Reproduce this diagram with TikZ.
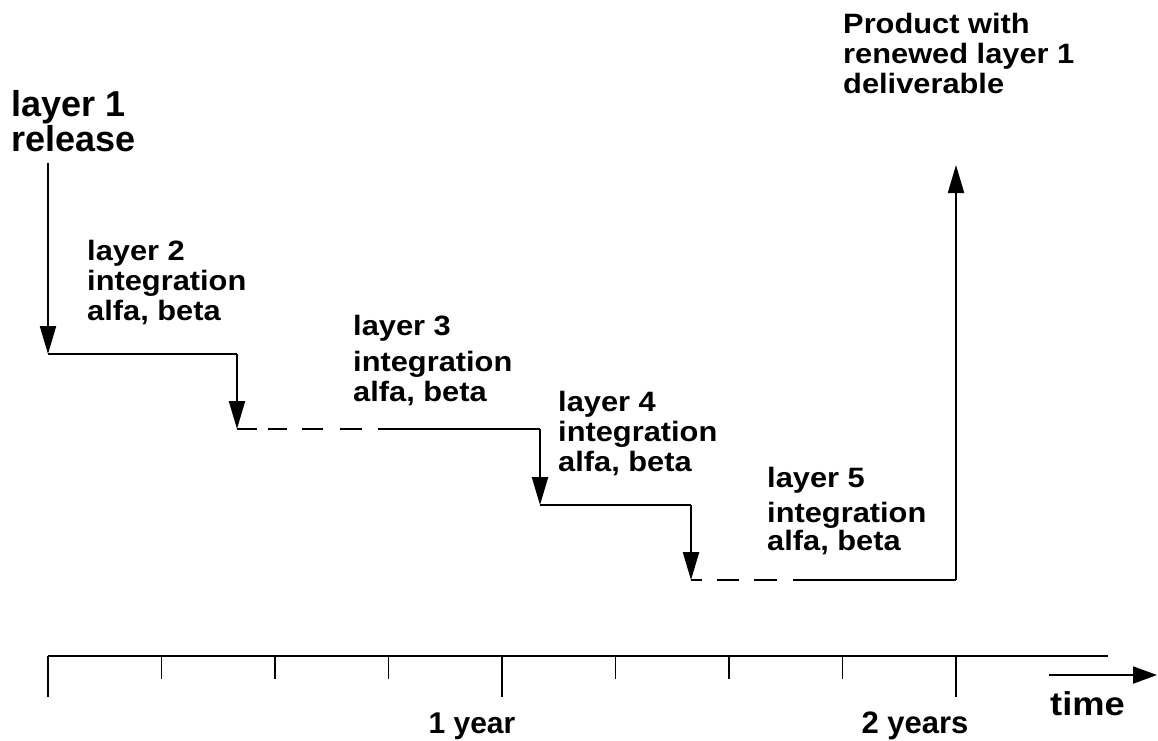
\documentclass[tikz,border=0pt]{standalone}
\usepackage{fontspec}
\setmainfont{Liberation Sans}
\newfontfamily\widesans{Liberation Sans}[FakeStretch=1.1]
\usetikzlibrary{arrows.meta}
\begin{document}
\begin{tikzpicture}[x=1pt, y=-1pt,
  flow/.style={line width=2.2pt},
  flowarrow/.style={flow, -{Triangle[length=28pt, width=16pt]}},
  axis/.style={line width=2pt},
  tick/.style={line width=1.5pt},
  % multi-line labels are anchored at the baseline of their last line
  biglabel/.style={anchor=base west, inner sep=0pt, align=left,
    font=\fontsize{36}{27.5}\selectfont\bfseries},
  label/.style={anchor=base west, inner sep=0pt, align=left,
    font=\widesans\fontsize{28}{30}\selectfont\bfseries},
  yearlabel/.style={anchor=base, inner sep=0pt,
    font=\fontsize{30}{30}\selectfont\bfseries}]
\useasboundingbox (0,0) rectangle (1158,740);

% corner points of the staircase
\coordinate (start) at (48,163);
\coordinate (c1) at (48,354);
\coordinate (c2) at (237,354);
\coordinate (c3) at (237,429);
\coordinate (d1end) at (362,429);
\coordinate (s1) at (378,429);
\coordinate (c4) at (540,429);
\coordinate (c5) at (540,505);
\coordinate (c6) at (691,505);
\coordinate (c7) at (691,580);
\coordinate (d2end) at (778,580);
\coordinate (s2) at (793,580);
\coordinate (c8) at (956,580);
\coordinate (goal) at (956,165);

% labels
\node[biglabel] (l1) at (11,151.5) {layer 1\\release};
\node[label] (l2) at (87,320) {layer 2\\integration\\alfa, beta};
\node[label] (l3) at (353,401.5) {layer 3\\[6pt]integration\\alfa, beta};
\node[label] (l4) at (558,471.5) {layer 4\\integration\\alfa, beta};
\node[label] (l5) at (767,550) {layer 5\\[5pt]integration\\[-2pt]alfa, beta};
\node[label] (prod) at (843,93) {Product with\\renewed layer 1\\deliverable};

% staircase
\draw[flowarrow] (start) -- (c1);
\draw[flow] (c1) -- (c2);
\draw[flowarrow] (c2) -- (c3);
\draw[flow, dash pattern=on 20pt off 11pt on 19pt off 15pt on 21pt off 17pt on 22pt off 20pt] (c3) -- (d1end);
\draw[flow] (s1) -- (c4);
\draw[flowarrow] (c4) -- (c5);
\draw[flow] (c5) -- (c6);
\draw[flowarrow] (c6) -- (c7);
\draw[flow, dash pattern=on 11pt off 15pt on 22pt off 15pt on 23pt off 20pt] (c7) -- (d2end);
\draw[flow] (s2) -- (c8);
\draw[flowarrow] (c8) -- (goal);

% time axis
\coordinate (ax0) at (48,656);
\coordinate (ax1) at (1108,656);
\draw[axis] (ax0) -- (ax1);
\foreach \i in {0,...,8} {
  \pgfmathsetmacro{\tx}{48+113.5*\i}
  \pgfmathtruncatemacro{\major}{mod(\i,4)==0 ? 1 : 0}
  \ifnum\major=1
    \draw[tick] (\tx,656) -- (\tx,697);
  \else
    \draw[tick] (\tx,656) -- (\tx,679);
  \fi
}
\coordinate (tstart) at (1049,675);
\coordinate (tend) at (1157,675);
\draw[axis, -{Triangle[length=24pt, width=17pt]}] (tstart) -- (tend);

\node[yearlabel] (y1) at (472,733) {1 year};
\node[yearlabel, font=\fontsize{31}{31}\selectfont\bfseries] (y2) at (915,733) {2 years};
\node[anchor=base west, inner sep=0pt, font=\widesans\fontsize{33}{33}\selectfont\bfseries] (time) at (1050,715) {time};
\end{tikzpicture}
\end{document}
